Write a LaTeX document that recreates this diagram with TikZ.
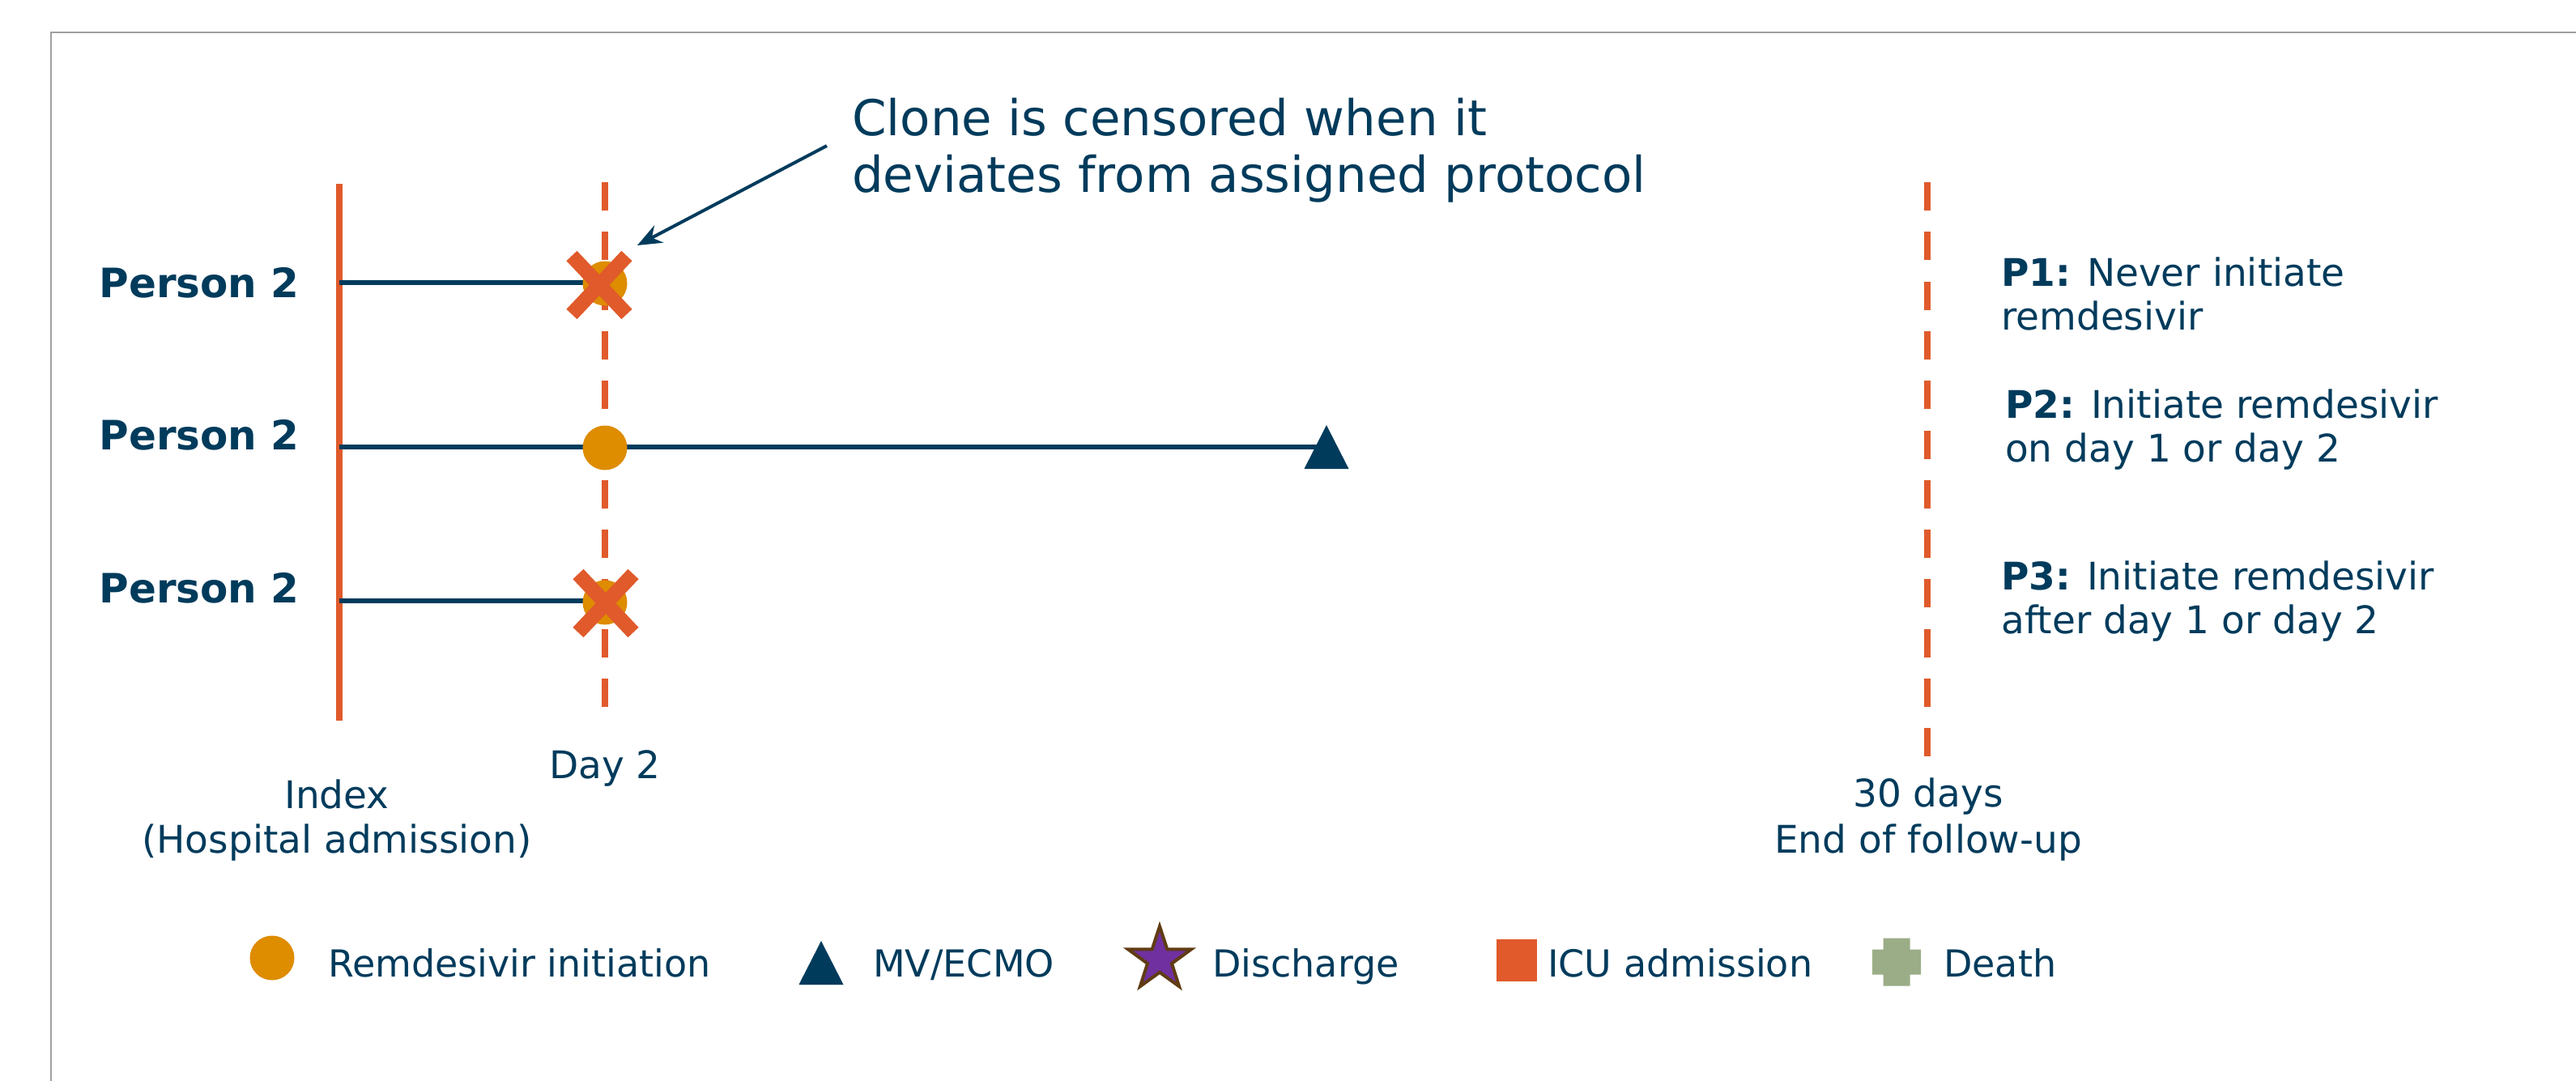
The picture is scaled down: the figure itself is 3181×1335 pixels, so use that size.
\documentclass[tikz,border=0pt]{standalone}
\usepackage{fontspec}
\setmainfont{DejaVu Sans}
\usetikzlibrary{arrows.meta,shapes.geometric}

\definecolor{navy}{RGB}{0,59,92}
\definecolor{rust}{RGB}{224,90,43}
\definecolor{amber}{RGB}{222,140,0}
\definecolor{violet}{RGB}{112,48,160}
\definecolor{umber}{RGB}{96,60,20}
\definecolor{sage}{RGB}{155,173,135}
\definecolor{framegrey}{RGB}{160,160,160}

% multi-line nodes below are placed by the baseline of their last line
\tikzset{
  txt/.style={text=navy, inner sep=0pt, font=\fontsize{47}{56}\selectfont},
  legendtxt/.style={txt, anchor=base west, font=\fontsize{46}{54}\selectfont},
  rowlabel/.style={txt, anchor=base east, font=\fontsize{50}{58}\selectfont\bfseries},
  protolabel/.style={txt, anchor=base west, align=left, font=\fontsize{47}{54}\selectfont},
  timeline/.style={draw=navy, line width=6pt},
  axisline/.style={draw=rust, line width=8pt},
  axisdash/.style={axisline, dash pattern=on 35pt off 26.3pt},
  remdot/.style={circle, fill=amber, minimum size=55pt, inner sep=0pt},
  icubox/.style={rectangle, fill=rust, minimum width=50pt, minimum height=52pt, inner sep=0pt},
  dischargestar/.style={star, star points=5, star point ratio=2.6, minimum size=82pt,
                        inner sep=0pt, fill=violet, draw=umber, line width=4pt},
  censor/.pic={\draw[rust, line width=18pt] (-34,-36) -- (34,36) (34,-36) -- (-34,36);},
  mvtri/.pic={\fill[navy] (0,-27) -- (27.5,27) -- (-27.5,27) -- cycle;},
  deathcross/.pic={\fill[sage] (-16.5,-29.5) -- (16.5,-29.5) -- (16.5,-15.5) -- (30,-15.5)
      -- (30,15.5) -- (16.5,15.5) -- (16.5,29.5) -- (-16.5,29.5) -- (-16.5,15.5)
      -- (-30,15.5) -- (-30,-15.5) -- (-16.5,-15.5) -- cycle;}
}

\begin{document}
\begin{tikzpicture}[x=1pt,y=-1pt]
\useasboundingbox (0,0) rectangle (3181,1335);

% page frame
\draw[framegrey, line width=2pt] (63,1335) -- (63,40) -- (3181,40);

% time axis markers
\coordinate (idxtop) at (419,227);
\coordinate (idxbot) at (419,890);
\coordinate (daytop) at (747,225);
\coordinate (daybot) at (747,873);
\coordinate (futop)  at (2380,225);
\coordinate (fubot)  at (2380,934);
\draw[axisline] (idxtop) -- (idxbot);
\draw[axisdash] (daytop) -- (daybot);
\draw[axisdash] (futop) -- (fubot);

% row labels
\node[rowlabel] (p1) at (370,367) {Person 2};
\node[rowlabel] (p2) at (370,555) {Person 2};
\node[rowlabel] (p3) at (370,744) {Person 2};

% clone timelines
\coordinate (s1) at (419,349);
\coordinate (s2) at (419,552);
\coordinate (s3) at (419,742);
\coordinate (t2) at (1638,552);
\draw[timeline] (s1) -- (747,349);
\draw[timeline] (s2) -- (t2);
\draw[timeline] (s3) -- (747,742);

% events
\node[remdot] (c1) at (747,350) {};
\node[remdot] (c2) at (747,553) {};
\node[remdot] (c3) at (747,744) {};
\pic at (740,352) {censor};
\pic at (748,745) {censor};
\pic at (t2) {mvtri};

% annotation
\node[txt, anchor=base west, align=left, font=\fontsize{61}{70}\selectfont] (clone)
  at (1052,237) {Clone is censored when it\\deviates from assigned protocol};
\coordinate (atail) at (1021,180);
\coordinate (ahead) at (787,303);
\draw[navy, line width=4pt, -{Stealth[length=30pt,width=24pt]}] (atail) -- (ahead);

% axis labels
\node[txt, anchor=base, align=center, font=\fontsize{47}{55}\selectfont] (idxlab)
  at (416,1053) {Index\\(Hospital admission)};
\node[txt, anchor=base] (daylab) at (747,961) {Day 2};
\node[txt, anchor=base, align=center, font=\fontsize{47}{57}\selectfont] (fulab)
  at (2381,1053) {30 days\\End of follow-up};

% protocol descriptions
\node[protolabel] (pr1) at (2471,407) {\textbf{P1:} Never initiate\\remdesivir};
\node[protolabel] (pr2) at (2476,570) {\textbf{P2:} Initiate remdesivir\\on day 1 or day 2};
\node[protolabel] (pr3) at (2471,782) {\textbf{P3:} Initiate remdesivir\\after day 1 or day 2};

% legend
\node[remdot] (lg1) at (336,1183) {};
\node[legendtxt] (lt1) at (405,1206) {Remdesivir initiation};
\coordinate (lg2) at (1014,1189);
\pic at (lg2) {mvtri};
\node[legendtxt] (lt2) at (1078,1206) {MV/ECMO};
\node[dischargestar] (lg3) at (1432,1185) {};
\node[legendtxt] (lt3) at (1497,1206) {Discharge};
\node[icubox] (lg4) at (1873,1186) {};
\node[legendtxt] (lt4) at (1911,1206) {ICU admission};
\coordinate (lg5) at (2342,1188);
\pic at (lg5) {deathcross};
\node[legendtxt] (lt5) at (2400,1206) {Death};
\end{tikzpicture}
\end{document}
